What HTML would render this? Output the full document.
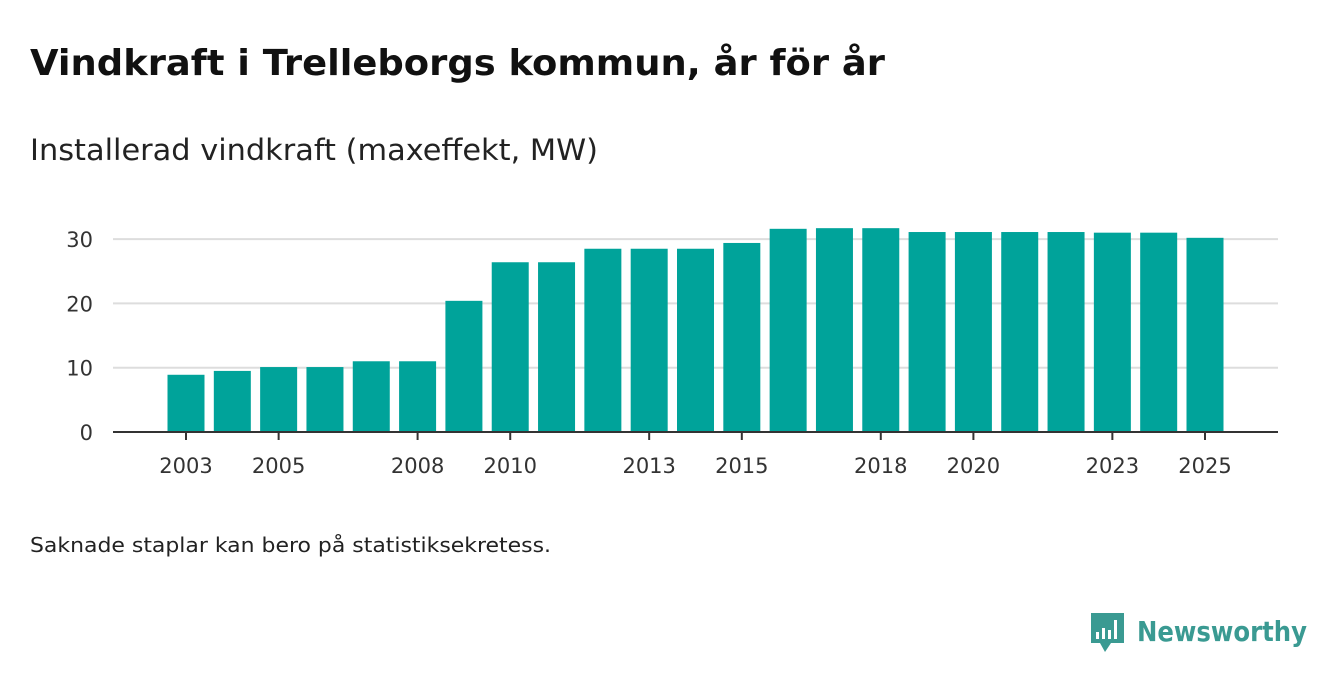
<!DOCTYPE html>
<html><head><meta charset="utf-8"><style>
body{margin:0;background:#fff;width:1340px;height:685px;overflow:hidden;font-family:"DejaVu Sans","Liberation Sans",sans-serif;color:#111}
</style></head><body>
<svg width="1340" height="685" xmlns="http://www.w3.org/2000/svg" id="chart" font-family="DejaVu Sans, Liberation Sans, sans-serif">
<text x="30" y="75" font-size="36" font-weight="bold" fill="#111" textLength="855" lengthAdjust="spacingAndGlyphs">Vindkraft i Trelleborgs kommun, år för år</text>
<text x="30" y="160" font-size="29" fill="#222" textLength="568" lengthAdjust="spacingAndGlyphs">Installerad vindkraft (maxeffekt, MW)</text>
<g id="grid"></g>
<g id="bars"></g>
<g id="xaxis"></g>
<text x="30" y="552" font-size="20" fill="#222" textLength="521" lengthAdjust="spacingAndGlyphs">Saknade staplar kan bero på statistiksekretess.</text>
<g>
<path d="M1091 613 h33 v30 h-13 l-6 9 l-5 -9 h-9 z" fill="#3a9a92"/>
<rect x="1096" y="632" width="3" height="7" fill="#fff"/>
<rect x="1102" y="628" width="3" height="11" fill="#fff"/>
<rect x="1108" y="630" width="3" height="9" fill="#fff"/>
<rect x="1114" y="620" width="3" height="19" fill="#fff"/>
<text x="1137" y="641" font-size="28" font-weight="bold" fill="#3a9a92" textLength="170" lengthAdjust="spacingAndGlyphs">Newsworthy</text>
</g>
</svg>
<script>
const years=[2003,2004,2005,2006,2007,2008,2009,2010,2011,2012,2013,2014,2015,2016,2017,2018,2019,2020,2021,2022,2023,2024,2025];
const values=[8.9,9.5,10.1,10.1,11.0,11.0,20.4,26.4,26.4,28.5,28.5,28.5,29.4,31.6,31.7,31.7,31.1,31.1,31.1,31.1,31.0,31.0,30.2];
const yTicks=[0,10,20,30];
const xTickLabels=[2003,2005,2008,2010,2013,2015,2018,2020,2023,2025];
const NS="http://www.w3.org/2000/svg";
const y0=432,pxPerUnit=6.43;
const yScale=v=>y0-v*pxPerUnit;
const xStart=186,step=(1205-186)/22,bw=37;
const xScale=yr=>xStart+(yr-years[0])*step;
function mk(t,a,p){const e=document.createElementNS(NS,t);for(const k in a)e.setAttribute(k,a[k]);p.appendChild(e);return e;}
const grid=document.getElementById('grid'),bars=document.getElementById('bars'),xa=document.getElementById('xaxis');
yTicks.forEach(t=>{
 if(t>0){const l=mk('line',{x1:113,x2:1278,y1:yScale(t),y2:yScale(t),stroke:'#ddd','stroke-width':2},grid);
 
 }
 const tx=mk('text',{x:93,y:yScale(t)+8,'font-size':21,'text-anchor':'end',fill:'#333'},grid);
 tx.textContent=t;
 
 
});
years.forEach((yr,i)=>{
 const r=mk('rect',{x:xScale(yr)-bw/2,y:yScale(values[i]),width:bw,height:values[i]*pxPerUnit,fill:'#00a39a'},bars);
 
 
});
mk('line',{x1:113,x2:1278,y1:y0,y2:y0,stroke:'#333','stroke-width':2},xa);
xTickLabels.forEach(yr=>{
 mk('line',{x1:xScale(yr),x2:xScale(yr),y1:y0,y2:y0+8,stroke:'#333','stroke-width':2},xa);
 const t=mk('text',{x:xScale(yr),y:473,'font-size':21,'text-anchor':'middle',fill:'#333'},xa);
 t.textContent=yr;
 
 
});
</script>
</body></html>
